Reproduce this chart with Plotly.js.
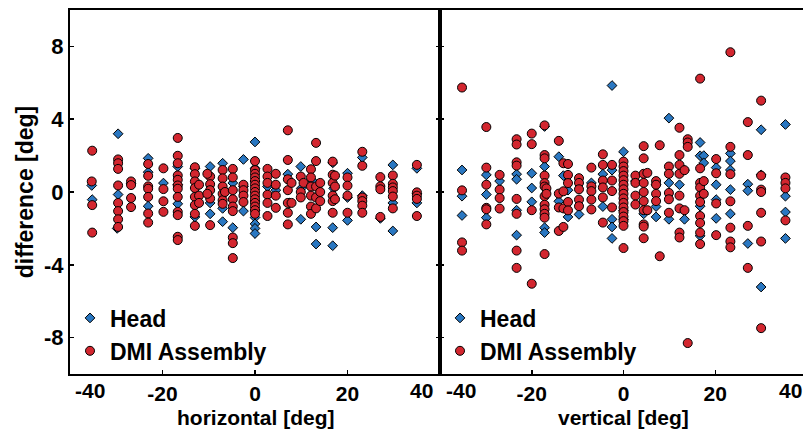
<!DOCTYPE html>
<html>
<head>
<meta charset="utf-8">
<script src="https://cdn.plot.ly/plotly-3.0.1.min.js"></script>
<style>
html,body{margin:0;padding:0;overflow:hidden;background:#fff;}
#chart{width:810px;height:433px;}
</style>
</head>
<body>
<div id="chart"></div>
<script>
// ---- data (x in deg, difference in deg) ----
const horizHead = [[-35.3,0.36],[-35.2,-0.42],[-29.6,3.2],[-29.6,-0.14],[-29.8,-2.0],[-26.8,0.45],
 [-23.1,1.85],[-23.1,1.09],[-23.1,-0.78],[-19.8,0.49],[-16.7,1.4],[-16.7,-0.65],[-16.7,0.4],
 [-13,1.3],[-13,-1.37],[-9.7,1.4],[-9.7,-0.6],[-9.7,-1.2],[-7,1.58],[-7,-1.63],[-7,-0.9],
 [-4.8,-1.96],[-4.8,0.5],[-2.5,1.79],[-2.5,-1.05],[-2.5,0.3],
 [0,2.75],[0,1.3],[0,0.6],[0,-0.5],[0,-1.0],[0,-1.4],[0,-1.75],[0,-2.0],[0,-2.28],
 [2.7,0.3],[4.5,0.1],[7.1,0.98],[7.5,-0.6],[9.9,1.4],[9.9,-1.5],[10,0.2],
 [13.2,-1.92],[13.2,-2.86],[12.5,0.6],[16.8,1.6],[16.8,-1.96],[16.8,-2.95],[17,0.2],
 [20,1.03],[20,-1.56],[20,-0.3],[23.2,1.9],[23.2,-0.2],[27.1,-1.45],
 [29.8,1.49],[29.8,-0.6],[29.8,-2.14],[35,1.3],[35,-0.6],[35,-0.1]];

const horizDMI = [[-35.2,2.27],[-35.3,0.58],[-35.2,-0.72],[-35.2,-2.23],
 [-29.6,1.79],[-29.6,1.58],[-29.6,1.27],[-29.6,0.36],[-29.6,-0.6],[-29.6,-1.05],[-29.6,-1.5],[-29.6,-1.92],
 [-26.8,0.58],[-26.8,0.38],[-26.8,-0.33],[-26.8,-0.83],
 [-23.1,1.54],[-23.1,0.89],[-23.1,0.31],[-23.1,0.18],[-23.1,-0.27],[-23.1,-1.18],[-23.1,-1.68],
 [-19.8,1.3],[-19.8,0.16],[-19.8,-0.51],[-19.8,-1.09],
 [-16.7,2.97],[-16.7,1.99],[-16.7,1.58],[-16.7,0.91],[-16.7,0.67],[-16.7,0.36],[-16.7,0.18],[-16.7,-0.27],
 [-16.7,-1.09],[-16.7,-1.27],[-16.7,-2.46],[-16.7,-2.64],
 [-13,1.36],[-13,0.98],[-13,0.58],[-13,0.22],[-13,-0.27],[-13,-0.72],[-13,-1.2],[-13,-1.86],
 [-12.1,0.4],[-12.1,-0.2],[-12.1,-0.6],
 [-9.7,0.85],[-9.7,0.43],[-9.7,0.1],[-9.7,-0.36],[-9.7,-1.82],[-10.3,1.0],[-10.3,-0.1],
 [-7,1.21],[-7,0.75],[-7,0.3],[-7,-0.1],[-7,-0.45],[-7,-0.65],[-6.5,0.0],
 [-4.8,1.27],[-4.8,0.8],[-4.8,0.1],[-4.8,-0.4],[-4.8,-0.8],[-4.8,-1.05],[-4.8,-2.5],[-4.8,-2.81],[-4.8,-3.63],
 [-2.5,0.4],[-2.5,0.1],[-2.5,-0.2],[-2.5,-0.55],
 [0,1.7],[0,1.2],[0,1.0],[0,0.8],[0,0.6],[0,0.4],[0,0.2],[0,0.0],[0,-0.2],[0,-0.4],[0,-0.6],[0,-0.8],[0,-1.0],[0,-1.2],
 [2.7,1.27],[2.7,0.85],[2.7,0.5],[2.7,-0.15],[2.7,-0.6],[2.7,-1.32],
 [4.5,1.0],[4.5,0.4],[4.5,-0.2],[4.5,-0.87],
 [7.1,3.39],[7.1,1.76],[7.1,0.7],[7.1,0.1],[7.1,-0.6],[7.1,-1.14],[7.1,-1.78],[7.9,0.5],[7.9,-0.6],
 [9.9,0.85],[9.9,0.0],[9.9,-0.3],[10.5,0.5],
 [12.1,1.25],[12.1,0.8],[12.1,0.3],[12.1,-0.2],[12.1,-0.8],[12.1,-1.2],
 [13.2,2.7],[13.2,1.7],[13.2,0.3],[13.2,-0.3],[13.2,-0.9],
 [14.1,0.5],[14.1,0.0],[14.1,-0.5],
 [16.8,1.67],[16.8,0.95],[16.8,0.5],[16.8,-0.2],[16.8,-0.5],[16.8,-1.14],[17.3,0.9],[17.3,0.3],[17.3,-0.4],
 [20,0.8],[20,0.35],[20,-0.2],[20,-1.14],
 [23.2,2.21],[23.2,1.44],[23.2,-0.3],[23.2,-0.5],[23.2,-0.75],[23.2,-1.14],
 [27.1,0.82],[27.1,0.31],[27.1,0.15],[27.1,-1.37],
 [29.8,0.91],[29.8,0.45],[29.8,0.25],[29.8,0.05],[29.8,-0.25],[29.8,-0.9],
 [35,1.49],[35,-0.02],[35,-0.2],[35,-0.38],[35,-1.32]];

const vertHead = [[-35.2,1.21],[-35.2,-0.23],[-35.2,-1.29],
 [-29.9,0.94],[-29.9,-0.14],[-29.9,-1.41],[-27,0.6],
 [-23.3,0.98],[-23.3,0.7],[-23.3,-1.0],[-23.3,-2.37],
 [-20,1.03],[-20,0.22],[-20,-0.54],
 [-17.2,3.6],[-17.2,1.4],[-17.2,-1.96],[-17.2,-2.23],
 [-14.1,1.94],[-14.1,-0.51],[-13.1,0.9],[-12.1,0.1],[-12.1,-1.37],[-9.7,-1.23],[-7,0.5],
 [-4.5,0.98],[-4.5,-0.8],
 [-2.5,5.85],[-2.5,1.2],[-2.5,-1.5],[-2.5,-1.92],[-2.5,-2.55],
 [0,2.21],[0,-1.0],[0,-1.5],[2.6,0.6],[4.4,-1.2],
 [7.1,0.4],[7.1,-0.8],[7.1,-1.37],[9.9,4.06],[9.9,-1.5],[9.9,0.5],
 [12.2,0.4],[13.3,1.2],[13.3,-1.5],
 [16.7,2.72],[16.7,1.99],[16.7,-0.78],[16.7,-2.41],[17.5,2.0],[17.5,1.6],
 [20.2,1.34],[20.2,0.4],[20.2,-0.42],[20.2,-1.45],
 [23.3,2.12],[23.3,1.7],[23.3,1.21],[23.3,0.13],[23.3,-1.2],
 [27.1,0.43],[27.1,0.07],[27.1,-2.83],
 [30,3.42],[30,0.94],[30,-5.22],
 [35.3,3.71],[35.3,-0.23],[35.3,-1.1],[35.3,-2.55]];

const vertDMI = [[-35.2,5.74],[-35.2,0.09],[-35.2,-2.77],[-35.2,-3.22],
 [-29.9,3.57],[-29.9,1.34],[-29.9,0.4],[-29.9,-0.87],[-29.9,-0.95],[-29.9,-1.78],
 [-27,0.94],[-27,0.13],[-27,-0.33],[-27,-0.91],
 [-23.3,2.9],[-23.3,2.61],[-23.3,1.63],[-23.3,1.45],[-23.3,-0.38],[-23.3,-1.2],[-23.3,-3.22],[-23.3,-4.17],
 [-20,3.21],[-20,2.63],[-20,-1.0],[-20,-5.04],
 [-17.2,3.66],[-17.2,2.03],[-17.2,1.85],[-17.2,0.9],[-17.2,0.49],[-17.2,0.3],[-17.2,-0.23],[-17.2,-0.7],
 [-17.2,-0.95],[-17.2,-1.2],[-17.2,-1.41],[-17.2,-3.41],[-16.8,0.2],[-16.8,-0.1],
 [-14.1,2.81],[-14.1,-0.09],[-14.1,-0.85],[-14.1,-2.14],
 [-13.1,1.58],[-13.1,0.04],[-13.1,-0.9],[-13.1,-1.92],
 [-12.1,1.54],[-12.1,0.94],[-12.1,0.49],[-12.1,-0.55],[-12.1,-1.01],
 [-9.7,0.76],[-9.7,0.5],[-9.7,0.15],[-9.7,-0.42],[-9.7,-0.78],
 [-7,1.34],[-7,0.31],[-7,0.05],[-7,-0.42],[-7,-0.96],
 [-4.5,2.07],[-4.5,1.49],[-4.5,0.63],[-4.5,0.25],[-4.5,-0.3],[-4.5,-1.68],
 [-2.5,1.49],[-2.5,0.63],[-2.5,0.05],[-2.5,-0.85],
 [0,1.67],[0,1.4],[0,1.15],[0,0.9],[0,0.65],[0,0.4],[0,0.15],[0,-0.1],[0,-0.35],[0,-0.6],[0,-0.85],
 [0,-1.1],[0,-1.35],[0,-1.6],[0,-1.86],[0,-3.08],
 [2.6,0.9],[2.6,0.5],[2.6,-0.2],[2.6,-0.69],
 [4.4,2.52],[4.4,1.85],[4.4,1.0],[4.4,0.5],[4.4,0.0],[4.4,-0.5],[4.4,-1.0],[4.4,-1.78],[4.4,-1.9],[4.4,-2.54],
 [5.2,1.05],[5.2,-1.0],
 [7.1,0.6],[7.1,0.4],[7.1,-0.1],[7.1,-0.5],[7.9,2.57],[7.9,-3.53],
 [9.9,1.4],[9.9,1.0],[9.9,-0.05],[9.9,-0.4],[9.9,-1.14],
 [12.2,3.53],[12.2,2.03],[12.2,1.49],[12.2,1.0],[12.2,-0.2],[12.2,-0.9],[12.2,-2.23],[12.2,-2.5],[13.3,1.2],[13.3,-1.0],
 [14,2.9],[14,2.72],[14,2.48],[14,-8.3],
 [16.7,6.23],[16.7,1.3],[16.7,0.5],[16.7,0.25],[16.7,-0.2],[16.7,-0.55],[16.7,-1.32],[16.7,-1.7],[16.7,-2.23],[16.7,-2.86],
 [17.5,0.6],[17.5,-0.1],
 [20.2,1.81],[20.2,1.03],[20.2,-0.63],[20.2,-2.37],
 [23.3,7.68],[23.3,2.48],[23.3,0.98],[23.3,-0.51],[23.3,-1.96],[23.3,-2.72],[23.3,-3.04],
 [27.1,3.84],[27.1,2.03],[27.1,-1.86],[27.1,-4.17],
 [30,5.02],[30,0.9],[30,0.13],[30,0.0],[30,-1.14],[30,-2.72],[30,-7.48],
 [35.3,0.8],[35.3,0.5],[35.3,0.2],[35.3,-1.56]];

const seriesNames = ['Head', 'DMI Assembly'];
const xTickVals = [-40, -20, 0, 20, 40];
const yTickVals = [-8, -4, 0, 4, 8];
const xTitles = ['horizontal [deg]', 'vertical [deg]'];
const yTitle = 'difference [deg]';

// ---- styling ----
const FONT = 'Liberation Sans, Arial, Helvetica, sans-serif';
const BLUE = '#2a77c1';
const RED = '#d3262f';
const headMarker = {symbol: 'diamond', size: 7.5, color: BLUE, line: {color: '#000', width: 1}};
const dmiMarker = {symbol: 'circle', size: 9, color: RED, line: {color: '#000', width: 1}};

function mk(pairs, name, marker, xa, ya, legend) {
  return {type: 'scatter', mode: 'markers', name: name,
    x: pairs.map(p => p[0]), y: pairs.map(p => p[1]),
    xaxis: xa, yaxis: ya, legend: legend, marker: marker, hoverinfo: 'skip', cliponaxis: true};
}

const traces = [
  mk(horizHead, seriesNames[0], headMarker, 'x', 'y', 'legend'),
  mk(horizDMI, seriesNames[1], dmiMarker, 'x', 'y', 'legend'),
  mk(vertHead, seriesNames[0], headMarker, 'x2', 'y2', 'legend2'),
  mk(vertDMI, seriesNames[1], dmiMarker, 'x2', 'y2', 'legend2')
];

const inner = xTickVals.slice(1, -1);
const tickFont = {family: FONT, size: 21, color: '#000', weight: 'bold'};
const ytickFont = {family: FONT, size: 22, color: '#000', weight: 'bold'};
const titleFont = {family: FONT, size: 21, color: '#000', weight: 'bold'};

function xAxis(domain, anchor) {
  return {domain: domain, anchor: anchor, range: [xTickVals[0], xTickVals[xTickVals.length - 1]],
    tickmode: 'array', tickvals: inner, ticktext: inner.map(String),
    ticks: 'inside', ticklen: 4, tickwidth: 1.5, tickcolor: '#000',
    showline: true, linecolor: '#000', linewidth: 2, mirror: true,
    showgrid: false, zeroline: false, tickfont: tickFont};
}
function yAxis(anchor, showLabels) {
  return {anchor: anchor, domain: [0, 1], range: [-10, 10],
    tickmode: 'array', tickvals: yTickVals, ticktext: yTickVals.map(String),
    ticks: 'inside', ticklen: 4, tickwidth: 1.5, tickcolor: '#000',
    showline: true, linecolor: '#000', linewidth: 2, mirror: 'ticks',
    showgrid: false, zeroline: false, showticklabels: showLabels, tickfont: ytickFont};
}

const split = 370 / 737;
const annotations = [];
[['x', 20, -19], ['x2', 21, -17]].forEach(([xr, sl, sr], i) => {
  annotations.push({xref: xr, yref: 'paper', x: xTickVals[0], y: 0, yanchor: 'top', xanchor: 'center',
    xshift: sl, yshift: -3, showarrow: false, text: String(xTickVals[0]), font: tickFont});
  annotations.push({xref: xr, yref: 'paper', x: xTickVals[xTickVals.length - 1], y: 0, yanchor: 'top', xanchor: 'center',
    xshift: sr, yshift: -3, showarrow: false, text: String(xTickVals[xTickVals.length - 1]), font: tickFont});
  // axis title
  annotations.push({xref: xr, yref: 'paper', x: 0, y: 0, yanchor: 'top', xanchor: 'center',
    yshift: -31, borderpad: 0, showarrow: false, text: xTitles[i], font: titleFont});
});

const legendStyle = {yanchor: 'top', y: 0.213, xanchor: 'left', bgcolor: 'rgba(0,0,0,0)',
  borderwidth: 0, font: {family: FONT, size: 23, color: '#000', weight: 'bold'},
  itemwidth: 30, tracegroupgap: 0};

const layout = {
  width: 810, height: 433,
  margin: {l: 70, r: 3, t: 10, b: 59},
  paper_bgcolor: '#fff', plot_bgcolor: '#fff',
  showlegend: true,
  xaxis: xAxis([0, split], 'y'),
  xaxis2: xAxis([split, 1], 'y2'),
  yaxis: Object.assign(yAxis('x', true), {title: {text: yTitle, font: {family: FONT, size: 23, color: '#000', weight: 'bold'}, standoff: 4}}),
  yaxis2: yAxis('x2', false),
  legend: Object.assign({x: 0.0}, legendStyle),
  legend2: Object.assign({x: split + 0.0}, legendStyle),
  annotations: annotations
};

Plotly.newPlot('chart', traces, layout, {staticPlot: true, displayModeBar: false});
</script>
</body>
</html>
